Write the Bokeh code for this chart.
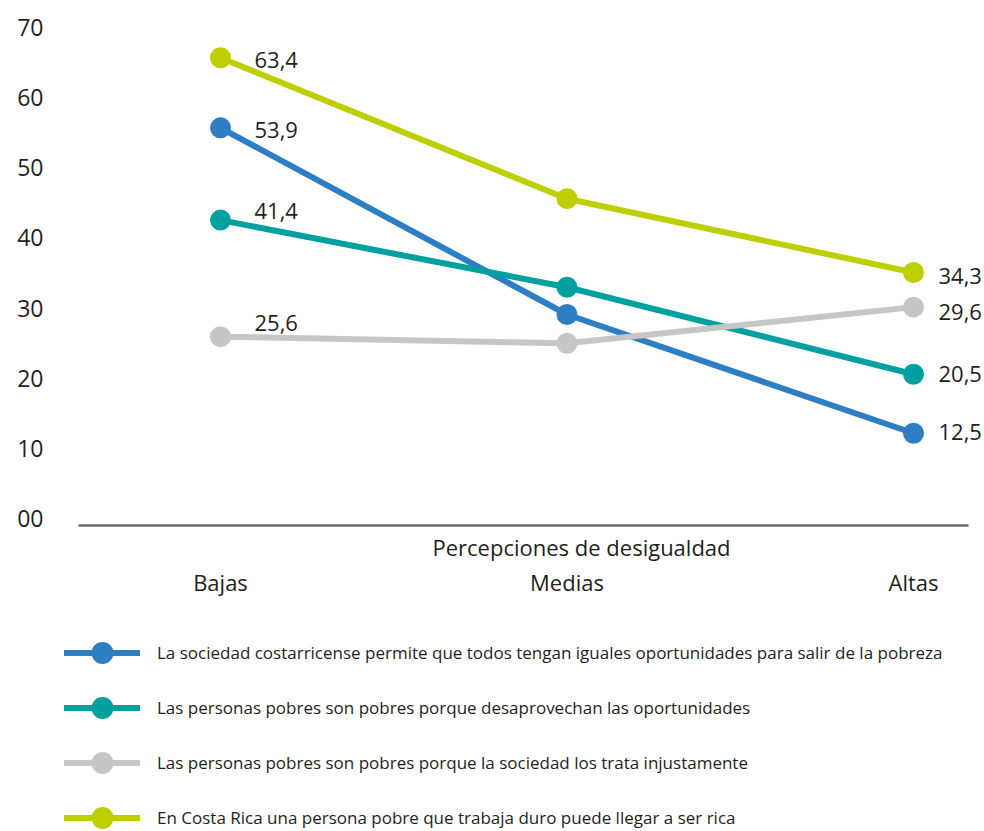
from bokeh.plotting import figure
from bokeh.models import (Range1d, LinearAxis, FixedTicker, Title, Legend,
                          LegendItem, ColumnDataSource)
from bokeh.layouts import column
from bokeh.core.properties import value
from bokeh.embed import file_html
from bokeh.resources import INLINE

# ---------------- data ----------------
categories = ["Bajas", "Medias", "Altas"]
x_title = "Percepciones de desigualdad"

series_names = [
    "La sociedad costarricense permite que todos tengan iguales oportunidades para salir de la pobreza",
    "Las personas pobres son pobres porque desaprovechan las oportunidades",
    "Las personas pobres son pobres porque la sociedad los trata injustamente",
    "En Costa Rica una persona pobre que trabaja duro puede llegar a ser rica",
]
iguales_oportunidades = [53.9, 28.6, 12.5]
desaprovechan = [41.4, 32.3, 20.5]
trato_injusto = [25.6, 24.7, 29.6]
trabajo_duro = [63.4, 44.3, 34.3]

y_tick_values = [0, 10, 20, 30, 40, 50, 60, 70]
y_tick_labels = ["00", "10", "20", "30", "40", "50", "60", "70"]

# ---------------- style ----------------
FONT_NAME = "Open Sans"
FONT = value(FONT_NAME)
TEXT = "#231F20"
colors = ["#2E7EC4", "#00A0A1", "#C6C6C6", "#BDCF00"]
# label offsets (px) for the first and last point of each series
first_dx, first_dy = 34, [2, -9, -14, 2]
last_dx, last_dy = 25, [-1, 0, 5, 4]

all_series = [iguales_oportunidades, desaprovechan, trato_injusto, trabajo_duro]
xs = list(range(len(categories)))

# x range: frame spans the full width; axis line limited by bounds
X0, X1 = -0.4935, 2.2049
AXIS_BOUNDS = (-0.4098, 2.1587)
FRAME_LEFT = 49

# ---------------- main chart ----------------
p = figure(width=984, height=610,
           x_range=Range1d(X0, X1), y_range=Range1d(0, 69.81),
           output_backend="svg", toolbar_location=None,
           y_axis_location=None,
           min_border_left=FRAME_LEFT, min_border_right=0,
           min_border_top=10, min_border_bottom=85)
p.extra_y_ranges = {"ylab": Range1d(-1.0, 72.43)}
p.grid.grid_line_color = None
p.outline_line_color = None
p.background_fill_color = "white"
p.border_fill_color = "white"

# axis line (default x axis, no ticks)
ax0 = p.below[0]
ax0.ticker = FixedTicker(ticks=[])
ax0.bounds = AXIS_BOUNDS
ax0.axis_line_color = "#6B6B6B"
ax0.axis_line_width = 2.5
ax0.major_tick_line_color = None
ax0.minor_tick_line_color = None
ax0.major_tick_out = 0
ax0.major_label_standoff = 0

# axis title (sits between line and category labels)
ttl = Title(text=x_title, align="left", offset=383,
            text_font=FONT_NAME, text_font_size="22px", text_font_style="normal",
            text_color=TEXT, standoff=8)
p.add_layout(ttl, "below")

# category labels
ax1 = LinearAxis(ticker=FixedTicker(ticks=xs),
                 major_label_overrides={i: c for i, c in zip(xs, categories)})
ax1.axis_line_color = None
ax1.major_tick_line_color = None
ax1.minor_tick_line_color = None
ax1.major_tick_out = 0
ax1.major_tick_in = 0
ax1.major_label_standoff = 1
ax1.major_label_text_font = FONT_NAME
ax1.major_label_text_font_size = "22px"
ax1.major_label_text_color = TEXT
p.add_layout(ax1, "below")

# y tick labels
ay = LinearAxis(y_range_name="ylab", ticker=FixedTicker(ticks=y_tick_values),
                major_label_overrides={v: l for v, l in zip(y_tick_values, y_tick_labels)})
ay.axis_line_color = None
ay.major_tick_line_color = None
ay.minor_tick_line_color = None
ay.major_tick_out = 0
ay.major_tick_in = 0
ay.major_label_standoff = 6
ay.major_label_text_font = FONT_NAME
ay.major_label_text_font_size = "23px"
ay.major_label_text_color = TEXT
p.add_layout(ay, "left")

for vals, col in zip(all_series, colors):
    src = ColumnDataSource(dict(x=xs, y=vals))
    p.line("x", "y", source=src, line_color=col, line_width=6, line_cap="round")
    p.scatter("x", "y", source=src, size=21, fill_color=col, line_color=None)

# data labels on first and last points
lx, ly, lt, ldx, ldy = [], [], [], [], []
for k, vals in enumerate(all_series):
    for idx, dx, dy in ((0, first_dx, first_dy[k]), (len(xs) - 1, last_dx, last_dy[k])):
        lx.append(xs[idx]); ly.append(vals[idx])
        lt.append(f"{vals[idx]:.1f}".replace(".", ","))
        ldx.append(dx); ldy.append(dy)
lsrc = ColumnDataSource(dict(x=lx, y=ly, t=lt, dx=ldx, dy=ldy))
p.text("x", "y", text="t", source=lsrc, x_offset="dx", y_offset="dy",
       text_font=FONT, text_font_size="22px", text_color=TEXT,
       text_align="left", text_baseline="middle")

# ---------------- legend strip ----------------
lg = figure(width=984, height=221, x_range=Range1d(0, 1), y_range=Range1d(0, 1),
            output_backend="svg", toolbar_location=None,
            x_axis_location=None, y_axis_location=None,
            min_border_left=FRAME_LEFT, min_border_right=0,
            min_border_top=0, min_border_bottom=0)
lg.grid.grid_line_color = None
lg.outline_line_color = None
lg.background_fill_color = "white"
lg.border_fill_color = "white"

items = []
nan = float("nan")
for name, col in zip(series_names, colors):
    placeholder = ColumnDataSource(dict(x=[nan], y=[nan]))  # legend swatch only
    lr = lg.line("x", "y", source=placeholder, line_color=col, line_width=6, line_cap="round")
    sr = lg.scatter("x", "y", source=placeholder, size=21, fill_color=col, line_color=None)
    items.append(LegendItem(label=name, renderers=[lr, sr]))

legend = Legend(items=items, location="top_left", orientation="vertical",
                glyph_width=76, glyph_height=55, label_standoff=17,
                spacing=0, padding=0, margin=15,
                border_line_color=None, background_fill_alpha=0,
                label_text_font=FONT_NAME, label_text_font_size="17px",
                label_text_color=TEXT)
lg.add_layout(legend)

open("out.html", "w").write(file_html(column(p, lg), INLINE))
